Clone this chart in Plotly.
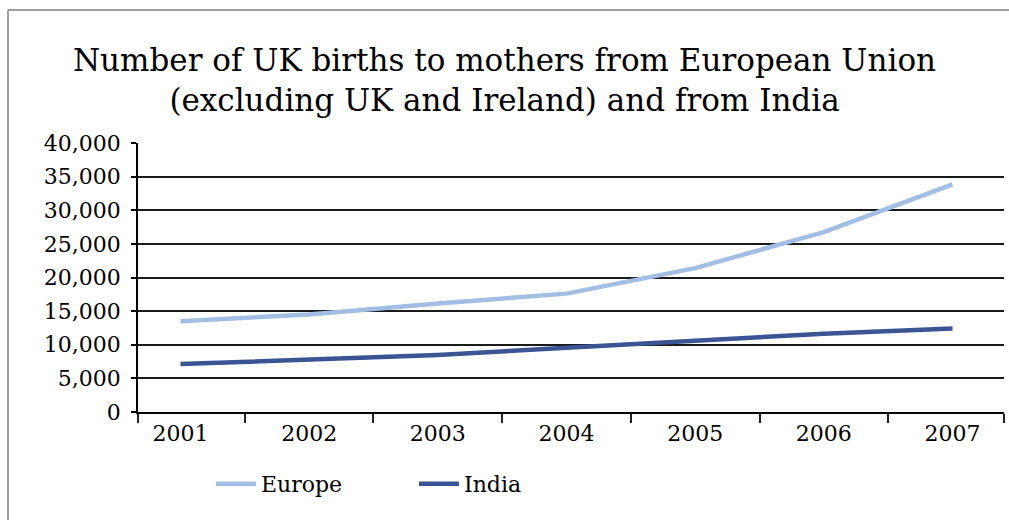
import plotly.graph_objects as go

years = [2001, 2002, 2003, 2004, 2005, 2006, 2007]
europe = [13500, 14500, 16150, 17600, 21400, 26750, 33850]
india = [7130, 7750, 8470, 9550, 10550, 11650, 12400]
y_ticks = [0, 5000, 10000, 15000, 20000, 25000, 30000, 35000, 40000]
y_labels = ["0", "5,000", "10,000", "15,000", "20,000", "25,000", "30,000", "35,000", "40,000"]

FONT = "DejaVu Serif"
W, H = 1009, 520
L, R, T, B = 138, 5, 143, 108
PH = H - T - B
PW = W - L - R

x0, x1 = 2000.67, 2007.40
boundaries = [x0] + [y + 0.5 for y in years[:-1]] + [x1]

fig = go.Figure()
fig.add_trace(go.Scatter(x=years, y=europe, name="Europe", mode="lines",
                         line=dict(color="#A3BEE5", width=4.5)))
fig.add_trace(go.Scatter(x=years, y=india, name="India", mode="lines",
                         line=dict(color="#3A5594", width=4.5)))

fig.update_layout(
    width=W, height=H,
    margin=dict(l=L, r=R, t=T, b=B),
    paper_bgcolor="white", plot_bgcolor="white",
    font=dict(family=FONT, color="black", size=22),
    title=dict(text="Number of UK births to mothers from European Union<br>(excluding UK and Ireland) and from India",
               x=0.5, xanchor="center", y=1 - 71 / H, yanchor="middle",
               font=dict(family=FONT, size=31, color="black")),
    showlegend=True,
    legend=dict(orientation="h", x=(211 - L) / PW, xanchor="left", y=-72 / PH, yanchor="middle",
                font=dict(family=FONT, size=22, color="black"),
                itemwidth=40, entrywidth=148, entrywidthmode="pixels",
                bgcolor="rgba(0,0,0,0)"),
    shapes=[
        dict(type="line", xref="paper", yref="paper",
             x0=-(L - 8) / PW, x1=1 + R / PW,
             y0=1 + (T - 10) / PH, y1=1 + (T - 10) / PH,
             line=dict(color="#A0A0A0", width=2)),
        dict(type="line", xref="paper", yref="paper",
             x0=-(L - 8) / PW, x1=-(L - 8) / PW,
             y0=1 + (T - 10) / PH, y1=-B / PH,
             line=dict(color="#A0A0A0", width=2)),
    ],
)

fig.update_xaxes(
    range=[x0, x1], tickmode="array", tickvals=years, ticktext=[str(y) for y in years],
    ticks="outside", ticklen=1, tickcolor="rgba(0,0,0,0)",
    showline=True, linecolor="black", linewidth=1.5,
    showgrid=False, zeroline=False,
    minor=dict(tickmode="array", tickvals=boundaries, ticks="outside", ticklen=9,
               tickcolor="#222", tickwidth=1.5, showgrid=False),
    tickfont=dict(family=FONT, size=22, color="black"),
)
fig.update_yaxes(
    range=[0, 40000], tickmode="array", tickvals=y_ticks, ticktext=y_labels,
    ticks="outside", ticklen=5, tickcolor="black", tickwidth=1.5,
    showline=True, linecolor="black", linewidth=1.5,
    showgrid=True, gridcolor="#1a1a1a", gridwidth=1.5,
    zeroline=False,
    tickfont=dict(family=FONT, size=22, color="black"),
    ticklabelstandoff=6,
)

fig.write_html("out.html")
